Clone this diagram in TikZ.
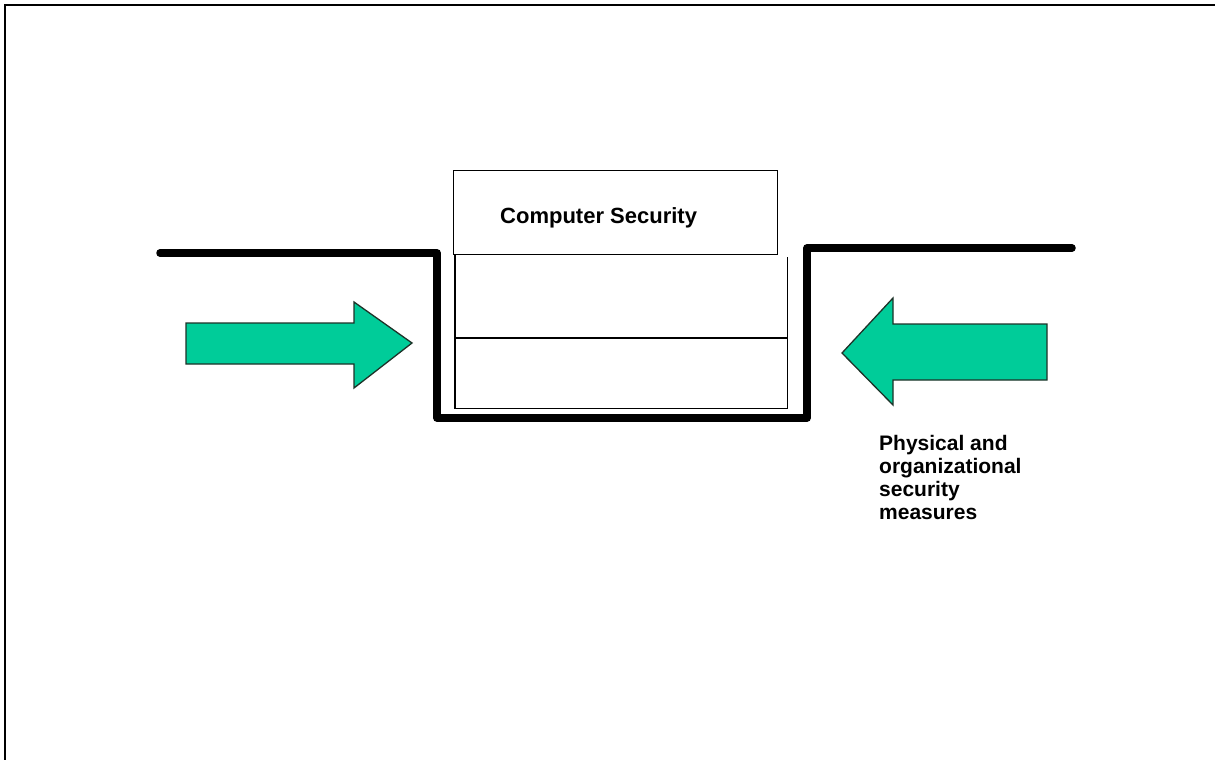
\documentclass[tikz,border=0pt]{standalone}
\usepackage{fontspec}
\setmainfont{Liberation Sans}
\definecolor{arrowgreen}{RGB}{0,204,153}
\definecolor{arrowedge}{RGB}{30,50,40}
\begin{document}
\begin{tikzpicture}[x=1pt,y=-1pt,
  thinbox/.style={draw=black,line width=1.2pt},
  thinline/.style={draw=black,line width=1.2pt},
  wall/.style={draw=black,line width=7.5pt,line cap=round,line join=round},
  bigarrow/.style={fill=arrowgreen,draw=arrowedge,line width=1.3pt,line join=miter},
  lbl/.style={inner sep=0pt,font=\bfseries\fontsize{21}{23}\selectfont}]
\useasboundingbox (0,0) rectangle (1215,760);
\fill[white] (0,0) rectangle (1215,760);
% frame
\draw[line width=2.4pt] (5,760) -- (5,5) -- (1215,5);
% boxes
\node[thinbox,minimum width=324pt,minimum height=84pt,anchor=north west,inner sep=0pt] (top) at (453,170) {};
\node[minimum width=332pt,minimum height=154pt,anchor=north west,inner sep=0pt] (low) at (455,254) {};
\draw[thinline] (low.north west) -- (low.south west) -- (low.south east) -- ([yshift=-3pt]low.north east);
\coordinate (ml) at (455,338);
\coordinate (mr) at (787,338);
\draw[thinline] (ml) -- (mr);
\node[lbl,font=\bfseries\fontsize{22}{24}\selectfont,anchor=base west] (cs) at (500,223) {Computer Security};
% wall
\coordinate (w1) at (160,253);
\coordinate (w2) at (437,253);
\coordinate (w3) at (437,418);
\coordinate (w4) at (807,418);
\coordinate (w5) at (807,248);
\coordinate (w6) at (1072,248);
\draw[wall] (w1) -- (w2) -- (w3) -- (w4) -- (w5) -- (w6);
% arrows
\draw[bigarrow] (186,323) -- (354,323) -- (354,302) -- (412,343) -- (354,388) -- (354,364) -- (186,364) -- cycle;
\draw[bigarrow] (1047,324) -- (893,324) -- (893,298) -- (842,353) -- (893,405) -- (893,380) -- (1047,380) -- cycle;
% label
\node[lbl,anchor=north west,align=left] (pm) at (879,435) {Physical and\\organizational\\security\\measures};
\end{tikzpicture}
\end{document}
